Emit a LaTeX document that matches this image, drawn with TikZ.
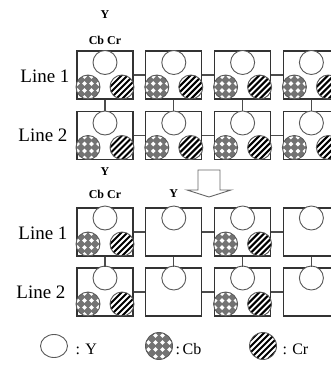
\documentclass[tikz,border=0pt]{standalone}
\usepackage{fontspec}
\setmainfont{Liberation Serif}
\usetikzlibrary{shapes,calc,positioning}

\begin{document}
\begin{tikzpicture}[x=1pt,y=-1pt,
    box/.style={draw=black!80,line width=1.3pt,minimum width=56pt,minimum height=48pt,inner sep=0pt},
    link/.style={draw=black!70,line width=1.3pt},
    ydot/.style={circle,draw=black!65,line width=0.9pt,fill=white,minimum size=24pt,inner sep=0pt},
    cbdot/.style={ydot,fill=black!55,path picture={
        \foreach \i in {-10.5,-3.5,3.5,10.5}
          \foreach \j in {-10.5,-3.5,3.5,10.5}
            \fill[white] ([xshift=\i pt,yshift=\j pt]path picture bounding box.center)
              +(-2.4pt,0pt) -- +(0pt,2.4pt) -- +(2.4pt,0pt) -- +(0pt,-2.4pt) -- cycle;}},
    crdot/.style={ydot,path picture={
        \foreach \k in {-30,-24,...,30}
          \draw[black,line width=2.1pt] ([xshift=\k pt-20pt,yshift=-20pt]path picture bounding box.center) -- ++(40pt,40pt);}},
    linelabel/.style={anchor=east,font=\fontsize{19}{19}\selectfont},
    chlabel/.style={font=\fontsize{12}{12}\selectfont\bfseries},
    keytext/.style={anchor=west,font=\fontsize{16}{16}\selectfont}]
       \useasboundingbox (0,0) rectangle (331,365);
       \clip (0,0) rectangle (331,365);
       % upper grid: every sample has Y, Cb and Cr
       \node[chlabel] (lY) at (105,15) {Y};
       \node[chlabel] (lCbCr) at (105,40) {Cb Cr};
       \node[linelabel] (line1) at (73,76) {Line 1};
       \node[linelabel] (line2) at (71,135) {Line 2};
       \foreach \r/\yy in {1/75,2/135.5}{
         \foreach \c in {1,...,4}{
           \node[box] (b\r\c) at ({105+68.8*(\c-1)},\yy) {};
           \node[ydot] (y\r\c) at ($(b\r\c.center)+(0,-12.5)$) {};
           \node[cbdot] (cb\r\c) at ($(b\r\c.center)+(-17,12)$) {};
           \node[crdot] (cr\r\c) at ($(b\r\c.center)+(17,12)$) {};
         }
       }
       % lower grid: chroma only in every second column
       \node[chlabel] (mY) at (105,172) {Y};
       \node[chlabel] (mCbCr) at (105,194) {Cb Cr};
       \node[chlabel] (mY2) at (173.8,194) {Y};
       \node[linelabel] (line3) at (71,233) {Line 1};
       \node[linelabel] (line4) at (69,292) {Line 2};
       \foreach \r/\yy in {3/232,4/292}{
         \foreach \c in {1,...,4}{
           \node[box] (b\r\c) at ({105+68.8*(\c-1)},\yy) {};
           \node[ydot] (y\r\c) at ($(b\r\c.center)+(0,-14)$) {};
         }
         \foreach \c in {1,3}{
           \node[cbdot] (cb\r\c) at ($(b\r\c.center)+(-17,12)$) {};
           \node[crdot] (cr\r\c) at ($(b\r\c.center)+(17,12)$) {};
         }
       }
       % connectors
       \foreach \r in {1,...,4}{
         \draw[link] (b\r1) -- (b\r2);
         \draw[link] (b\r2) -- (b\r3);
         \draw[link] (b\r3) -- (b\r4);
       }
       \foreach \c in {1,...,4}{
         \draw[link] (b1\c) -- (b2\c);
         \draw[link] (b3\c) -- (b4\c);
       }
       % hollow arrow between the two grids
       \draw[black!60,line width=0.9pt,fill=white] (198,170) -- (220,170) -- (220,190) -- (231,190)
            -- (209,197) -- (187,190) -- (198,190) -- cycle;
       % key
       \node[ellipse,draw=black!65,line width=0.9pt,minimum width=27pt,minimum height=23pt,inner sep=0pt] (kY) at (54,346) {};
       \node[keytext] (tY) at (72,349) {:\,\,Y};
       \node[cbdot,minimum size=27pt] (kCb) at (159,346) {};
       \node[keytext] (tCb) at (172,349) {:\,Cb};
       \node[crdot,minimum size=27pt] (kCr) at (263,346) {};
       \node[keytext] (tCr) at (279,349) {:\,\,Cr};
     \end{tikzpicture}
\end{document}
